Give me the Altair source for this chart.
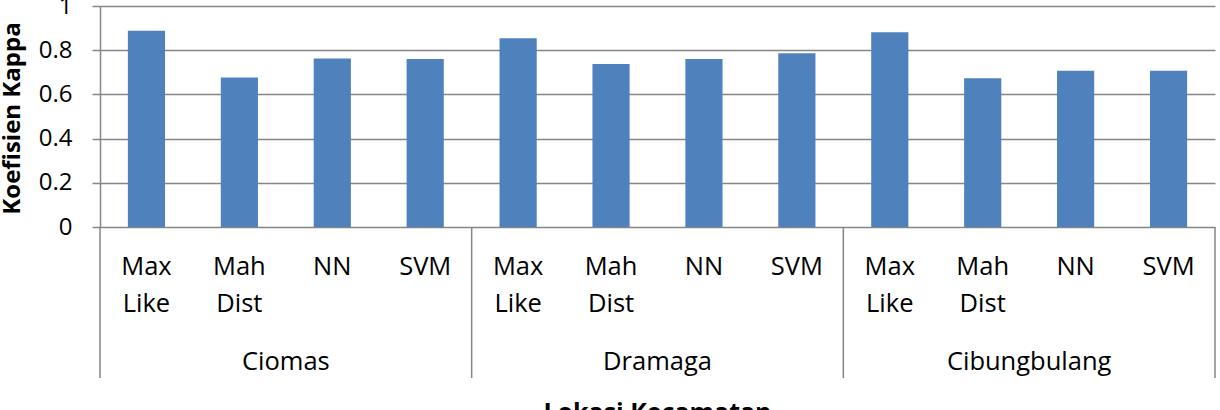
import altair as alt
import pandas as pd

locations = ["Ciomas", "Dramaga", "Cibungbulang"]
methods = ["Max Like", "Mah Dist", "NN", "SVM"]
kappa_ciomas = [0.888, 0.677, 0.763, 0.760]
kappa_dramaga = [0.854, 0.738, 0.760, 0.786]
kappa_cibungbulang = [0.881, 0.673, 0.707, 0.707]
y_ticks = [0, 0.2, 0.4, 0.6, 0.8, 1]
y_title = "Koefisien Kappa"
x_title = "Lokasi Kecamatan"

FONT = "Open Sans"
BAR = "#4F81BD"
GRID = "#868686"

rows = []
for gi, (loc, vals) in enumerate(zip(locations, [kappa_ciomas, kappa_dramaga, kappa_cibungbulang])):
    for mi, (m, v) in enumerate(zip(methods, vals)):
        rows.append({"location": loc, "method": m, "kappa": v, "idx": gi * len(methods) + mi})
df = pd.DataFrame(rows)
groups = pd.DataFrame({"location": locations, "gidx": list(range(len(locations)))})
seps = pd.DataFrame({"s": list(range(len(locations) + 1))})
xt = pd.DataFrame({"t": [x_title]})

n_total = len(locations) * len(methods)
xscale = alt.Scale(domain=[0, n_total], nice=False, zero=False)

bars = alt.Chart(df).mark_bar(color=BAR).transform_calculate(
    x0="datum.idx + 0.3", x1="datum.idx + 0.7"
).encode(
    x=alt.X("x0:Q", scale=xscale, axis=None),
    x2="x1:Q",
    y=alt.Y(
        "kappa:Q",
        scale=alt.Scale(domain=[0, 1], nice=False),
        axis=alt.Axis(
            values=y_ticks, format="~g", title=y_title, grid=True,
            gridColor=GRID, gridWidth=1.5, domainColor=GRID, domainWidth=1.5,
            tickColor=GRID, tickWidth=1.5,
            tickSize=8, labelPadding=20, labelFontSize=24, labelFont=FONT,
            labelColor="black", titleFont=FONT, titleFontSize=24,
            titleFontWeight="bold", titleColor="black", titleX=-88, titleY=112,
            titleAngle=270, titleAlign="center", titleBaseline="middle",
        ),
    ),
    y2=alt.datum(0),
)

method_labels = alt.Chart(df).mark_text(
    font=FONT, fontSize=25.5, color="black", lineBreak=" ", lineHeight=37,
    baseline="alphabetic", align="center"
).transform_calculate(xc="datum.idx + 0.5").encode(
    x=alt.X("xc:Q", scale=xscale, axis=None),
    y=alt.value(269),
    text="method:N",
)

group_labels = alt.Chart(groups).mark_text(
    font=FONT, fontSize=25.5, color="black", baseline="alphabetic", align="center"
).transform_calculate(gx=f"datum.gidx * {len(methods)} + {len(methods) / 2}").encode(
    x=alt.X("gx:Q", scale=xscale, axis=None),
    y=alt.value(364),
    text="location:N",
)

sep_rules = alt.Chart(seps).mark_rule(color=GRID, strokeWidth=1.5).transform_calculate(
    sx=f"datum.s * {len(methods)}"
).encode(
    x=alt.X("sx:Q", scale=xscale, axis=None),
    y=alt.value(221),
    y2=alt.value(372),
)

x_title_mark = alt.Chart(xt).mark_text(
    font=FONT, fontSize=25, fontWeight="bold", color="black", baseline="alphabetic", align="center"
).encode(
    x=alt.value(557.5),
    y=alt.value(415),
    text="t:N",
)

chart = alt.layer(bars, sep_rules, method_labels, group_labels, x_title_mark).properties(
    width=1115, height=221,
    autosize=alt.AutoSizeParams(type="none"),
    padding={"left": 100, "top": 6, "right": 5, "bottom": 183},
).configure_view(stroke=None)

chart.save("out.html", embed_options={"renderer": "svg", "actions": False})
